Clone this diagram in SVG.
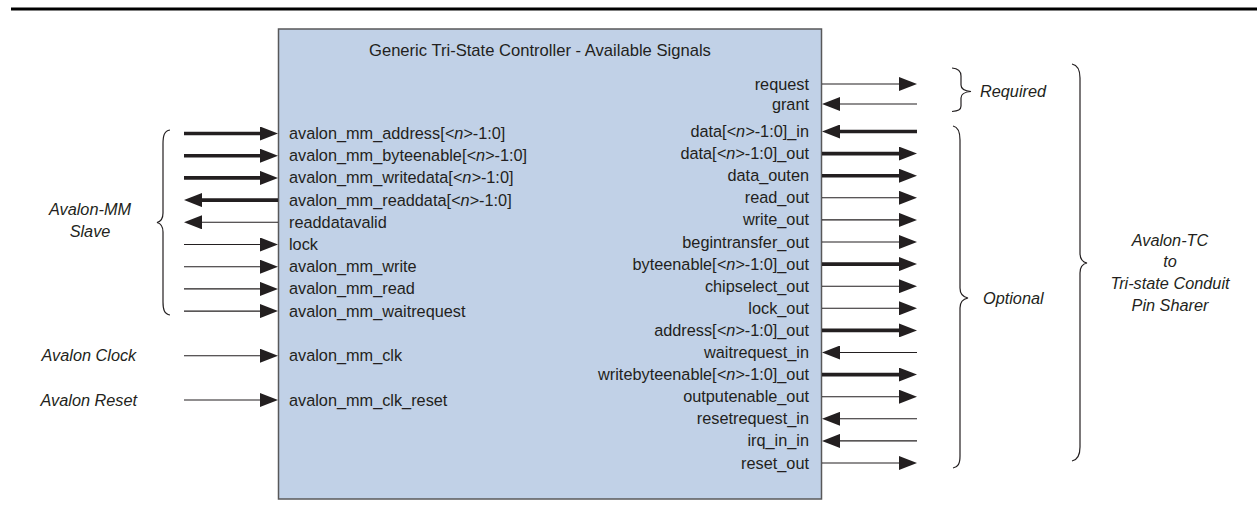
<svg xmlns="http://www.w3.org/2000/svg" width="1257" height="512" viewBox="0 0 1257 512">
  <style>
    text { font-family: "Liberation Sans", Arial, Helvetica, sans-serif; font-size: 16.3px; fill: #231F20; }
    .r { text-anchor: end; }
    .c { text-anchor: middle; }
    .it { font-style: italic; }
    .box { fill: #C1D1E7; stroke: #58585A; stroke-width: 1.5; }
    .thin { stroke: #231F20; stroke-width: 1.1; fill: none; }
    .bus { stroke: #231F20; stroke-width: 3.6; fill: none; }
    .brace { stroke: #231F20; stroke-width: 1.2; fill: none; }
    .rule { stroke: #000; stroke-width: 3; }
  </style>
  <defs>
    <marker id="head" viewBox="0 0 18 14" refX="2" refY="7" markerWidth="18" markerHeight="14" markerUnits="userSpaceOnUse" orient="auto">
      <path d="M0,0 L18,7 L0,14 Z" fill="#231F20"/>
    </marker>
  </defs>

  <line class="rule" x1="11" y1="9" x2="1257" y2="9"/>

  <!-- controller block with its port names -->
  <g id="controller">
    <rect class="box" x="278.5" y="29" width="543" height="470"/>
    <text x="369" y="55.5" style="font-size:16.6px">Generic Tri-State Controller - Available Signals</text>
    <g id="slave-ports">
      <text x="289" y="139">avalon_mm_address[<tspan class="it">&lt;n&gt;</tspan>-1:0]</text>
      <text x="289" y="161.2">avalon_mm_byteenable[<tspan class="it">&lt;n&gt;</tspan>-1:0]</text>
      <text x="289" y="183.4">avalon_mm_writedata[<tspan class="it">&lt;n&gt;</tspan>-1:0]</text>
      <text x="289" y="205.6">avalon_mm_readdata[<tspan class="it">&lt;n&gt;</tspan>-1:0]</text>
      <text x="289" y="227.8">readdatavalid</text>
      <text x="289" y="250">lock</text>
      <text x="289" y="272.2">avalon_mm_write</text>
      <text x="289" y="294.4">avalon_mm_read</text>
      <text x="289" y="316.6">avalon_mm_waitrequest</text>
      <text x="289" y="361.2">avalon_mm_clk</text>
      <text x="289" y="405.5">avalon_mm_clk_reset</text>
    </g>
    <g id="conduit-ports">
      <text class="r" x="809" y="89.5">request</text>
      <text class="r" x="809" y="109.5">grant</text>
      <text class="r" x="809" y="137">data[<tspan class="it">&lt;n&gt;</tspan>-1:0]_in</text>
      <text class="r" x="809" y="159.1">data[<tspan class="it">&lt;n&gt;</tspan>-1:0]_out</text>
      <text class="r" x="809" y="181.2">data_outen</text>
      <text class="r" x="809" y="203.3">read_out</text>
      <text class="r" x="809" y="225.4">write_out</text>
      <text class="r" x="809" y="247.5">begintransfer_out</text>
      <text class="r" x="809" y="269.6">byteenable[<tspan class="it">&lt;n&gt;</tspan>-1:0]_out</text>
      <text class="r" x="809" y="291.7">chipselect_out</text>
      <text class="r" x="809" y="313.8">lock_out</text>
      <text class="r" x="809" y="335.9">address[<tspan class="it">&lt;n&gt;</tspan>-1:0]_out</text>
      <text class="r" x="809" y="358">waitrequest_in</text>
      <text class="r" x="809" y="380.1">writebyteenable[<tspan class="it">&lt;n&gt;</tspan>-1:0]_out</text>
      <text class="r" x="809" y="402.2">outputenable_out</text>
      <text class="r" x="809" y="424.3">resetrequest_in</text>
      <text class="r" x="809" y="446.4">irq_in_in</text>
      <text class="r" x="809" y="468.5">reset_out</text>
    </g>
  </g>

  <!-- signal arrows -->
  <g id="connectors" marker-end="url(#head)">
    <!-- Avalon-MM slave side -->
    <line class="bus" x1="184" y1="133.5" x2="262" y2="133.5"/>
    <line class="bus" x1="184" y1="155.7" x2="262" y2="155.7"/>
    <line class="bus" x1="184" y1="177.9" x2="262" y2="177.9"/>
    <line class="bus" x1="278" y1="200.1" x2="200" y2="200.1"/>
    <line class="thin" x1="278" y1="222.3" x2="200" y2="222.3"/>
    <line class="thin" x1="184" y1="244.5" x2="262" y2="244.5"/>
    <line class="thin" x1="184" y1="266.7" x2="262" y2="266.7"/>
    <line class="thin" x1="184" y1="288.9" x2="262" y2="288.9"/>
    <line class="thin" x1="184" y1="311.1" x2="262" y2="311.1"/>
    <line class="thin" x1="184" y1="355.7" x2="262" y2="355.7"/>
    <line class="thin" x1="184" y1="400" x2="262" y2="400"/>
    <!-- tri-state conduit side -->
    <line class="thin" x1="822" y1="84" x2="901" y2="84"/>
    <line class="thin" x1="917" y1="104" x2="838" y2="104"/>
    <line class="bus" x1="917" y1="131.5" x2="838" y2="131.5"/>
    <line class="bus" x1="822" y1="153.6" x2="901" y2="153.6"/>
    <line class="bus" x1="822" y1="175.7" x2="901" y2="175.7"/>
    <line class="thin" x1="822" y1="197.8" x2="901" y2="197.8"/>
    <line class="thin" x1="822" y1="219.9" x2="901" y2="219.9"/>
    <line class="thin" x1="822" y1="242" x2="901" y2="242"/>
    <line class="bus" x1="822" y1="264.1" x2="901" y2="264.1"/>
    <line class="thin" x1="822" y1="286.2" x2="901" y2="286.2"/>
    <line class="thin" x1="822" y1="308.3" x2="901" y2="308.3"/>
    <line class="bus" x1="822" y1="330.4" x2="901" y2="330.4"/>
    <line class="thin" x1="917" y1="352.5" x2="838" y2="352.5"/>
    <line class="bus" x1="822" y1="374.6" x2="901" y2="374.6"/>
    <line class="thin" x1="822" y1="396.7" x2="901" y2="396.7"/>
    <line class="thin" x1="917" y1="418.8" x2="838" y2="418.8"/>
    <line class="thin" x1="917" y1="440.9" x2="838" y2="440.9"/>
    <line class="thin" x1="822" y1="463" x2="901" y2="463"/>
  </g>

  <!-- interface groupings -->
  <g id="avalon-mm-slave">
    <path class="brace" d="M170,130 C164,131 163,136 163,144 L163,213 C163,219 161,221.5 157,222.5 C161,223.5 163,226 163,232 L163,302 C163,309 164,314 170,315"/>
    <text class="c it" x="90" y="215">Avalon-MM</text>
    <text class="c it" x="90" y="237">Slave</text>
  </g>
  <g id="avalon-clock">
    <text class="it" x="41.5" y="361.2">Avalon Clock</text>
  </g>
  <g id="avalon-reset">
    <text class="it" x="40.5" y="405.5">Avalon Reset</text>
  </g>
  <g id="required">
    <path class="brace" d="M952,68 C958,68.5 961,71 961,76 L961,85 C961,89 964,91 971,91.5 C964,92 961,94 961,98 L961,106 C961,110 958,111 952,111.5"/>
    <text class="it" x="980" y="97">Required</text>
  </g>
  <g id="optional">
    <path class="brace" d="M953,126 C958,127 960,132 960,140 L960,288 C960,294 963,297 968,298 C963,299 960,302 960,308 L960,456 C960,464 958,467 953,468"/>
    <text class="it" x="983" y="303.5">Optional</text>
  </g>
  <g id="pin-sharer">
    <path class="brace" d="M1072,64 C1077,65 1080,70 1080,78 L1080,253 C1080,259 1082,262 1087,263 C1082,264 1080,267 1080,273 L1080,447 C1080,455 1077,460 1072,461"/>
    <text class="c it" x="1170" y="245.5">Avalon-TC</text>
    <text class="c it" x="1170" y="267">to</text>
    <text class="c it" x="1170" y="288.5">Tri-state Conduit</text>
    <text class="c it" x="1170" y="310.5">Pin Sharer</text>
  </g>
</svg>
